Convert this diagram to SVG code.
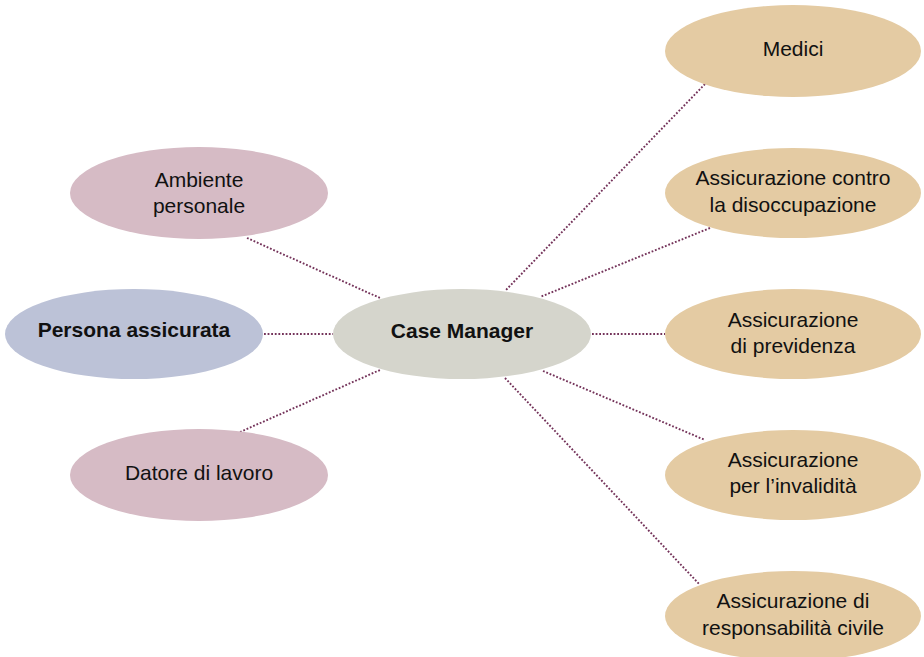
<svg xmlns="http://www.w3.org/2000/svg" width="924" height="657" viewBox="0 0 924 657">
<style>
.n text{font-family:"Liberation Sans",Arial,sans-serif;font-size:21px;fill:#111;text-anchor:middle}
.b text{font-weight:bold}
.tan{fill:#e4cba3}
.pink{fill:#d6bbc5}
.blue{fill:#bcc2d7}
.gray{fill:#d5d5cc}
#connectors line{stroke:#74335a;stroke-width:1.9;stroke-dasharray:1.8 1.8;fill:none}
</style>
<rect width="924" height="657" fill="#fff"/>
<g id="connectors">
<line x1="247" y1="238" x2="380" y2="298"/>
<line x1="264" y1="334" x2="333" y2="334"/>
<line x1="240" y1="432" x2="380" y2="370"/>
<line x1="705" y1="84" x2="505" y2="291"/>
<line x1="710" y1="228" x2="540" y2="297"/>
<line x1="592" y1="334" x2="665" y2="334"/>
<line x1="543" y1="371" x2="705" y2="440"/>
<line x1="505" y1="378" x2="700" y2="585"/>
</g>
<g id="ambiente" class="n"><ellipse class="pink" cx="199" cy="193" rx="129" ry="46"/><text x="199" y="187">Ambiente</text><text x="199" y="213">personale</text></g>
<g id="persona" class="n b"><ellipse class="blue" cx="134" cy="334" rx="129" ry="45"/><text x="134" y="337">Persona assicurata</text></g>
<g id="datore" class="n"><ellipse class="pink" cx="199" cy="475" rx="129" ry="46"/><text x="199" y="480">Datore di lavoro</text></g>
<g id="case" class="n b"><ellipse class="gray" cx="462" cy="334" rx="129" ry="45"/><text x="462" y="338">Case Manager</text></g>
<g id="medici" class="n"><ellipse class="tan" cx="793" cy="51" rx="128" ry="46"/><text x="793" y="56">Medici</text></g>
<g id="disoccupazione" class="n"><ellipse class="tan" cx="793" cy="193" rx="128" ry="45"/><text x="793" y="185">Assicurazione contro</text><text x="793" y="212">la disoccupazione</text></g>
<g id="previdenza" class="n"><ellipse class="tan" cx="793" cy="334" rx="128" ry="45"/><text x="793" y="327">Assicurazione</text><text x="793" y="353">di previdenza</text></g>
<g id="invalidita" class="n"><ellipse class="tan" cx="793" cy="475" rx="128" ry="45"/><text x="793" y="467">Assicurazione</text><text x="793" y="493">per l’invalidità</text></g>
<g id="responsabilita" class="n"><ellipse class="tan" cx="793" cy="616" rx="128" ry="45"/><text x="793" y="608">Assicurazione di</text><text x="793" y="635">responsabilità civile</text></g>
</svg>
